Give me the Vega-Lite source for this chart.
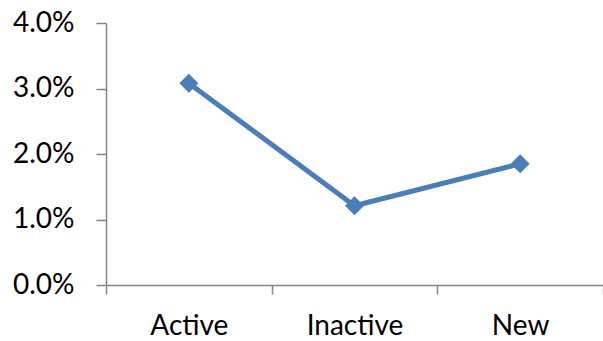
{
  "$schema": "https://vega.github.io/schema/vega-lite/v6.json",
  "autosize": "none",
  "width": 497,
  "height": 262,
  "padding": {"left": 106, "top": 23, "right": 0, "bottom": 56},
  "background": "white",
  "config": {
    "view": {"stroke": null},
    "font": "Lato",
    "axis": {
      "domainColor": "#868686",
      "tickColor": "#868686",
      "domainWidth": 1.5,
      "tickWidth": 1.5,
      "labelColor": "#000000",
      "labelFont": "Lato",
      "labelFontSize": 28,
      "labelOverlap": false,
      "grid": false,
      "title": null
    }
  },
  "data": {
    "values": [
      {"segment": "Active", "rate": 0.0308},
      {"segment": "Inactive", "rate": 0.0121},
      {"segment": "New", "rate": 0.0185}
    ]
  },
  "encoding": {
    "x": {
      "field": "segment",
      "type": "nominal",
      "sort": null,
      "scale": {"paddingInner": 0, "paddingOuter": 0},
      "axis": {"labelAngle": 0, "tickBand": "extent", "tickSize": 9, "labelPadding": 18}
    },
    "y": {
      "field": "rate",
      "type": "quantitative",
      "scale": {"domain": [0, 0.04], "nice": false},
      "axis": {"format": ".1%", "values": [0, 0.01, 0.02, 0.03, 0.04], "tickSize": 10, "labelPadding": 22}
    }
  },
  "layer": [
    {"mark": {"type": "line", "color": "#4a7ebb", "strokeWidth": 5}},
    {"mark": {"type": "point", "shape": "diamond", "filled": true, "color": "#4a7ebb", "opacity": 1, "size": 360}}
  ]
}
